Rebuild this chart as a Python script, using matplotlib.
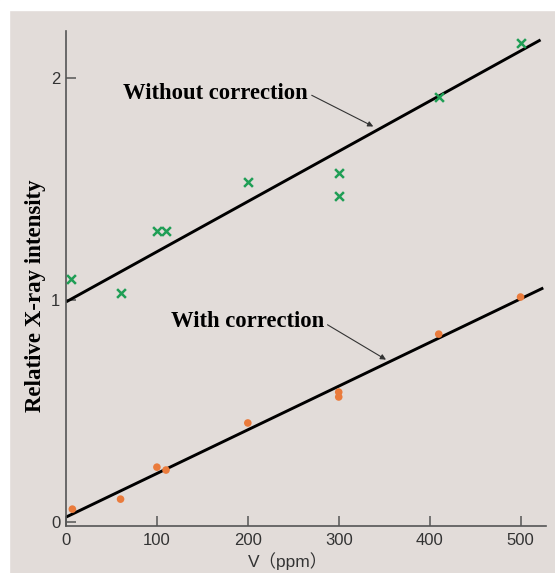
import matplotlib
matplotlib.use("Agg")
import matplotlib.pyplot as plt
from matplotlib.patches import Rectangle

# ---- data ----
v_without = [5, 60, 100, 110, 200, 300, 300, 410, 500]
i_without = [1.093, 1.030, 1.309, 1.309, 1.530, 1.571, 1.467, 1.913, 2.157]
fit_without_x = [0, 522]
fit_without_y = [0.99, 2.17]

v_with = [7, 60, 100, 110, 200, 300, 300, 410, 500]
i_with = [0.057, 0.102, 0.246, 0.233, 0.445, 0.584, 0.562, 0.845, 1.012]
fit_with_x = [0, 525]
fit_with_y = [0.021, 1.053]

x_ticks = [0, 100, 200, 300, 400, 500]
y_ticks = [0, 1, 2]
# ---------------------------------------

BG     = "#e2dcd9"
GREEN  = "#1f9e55"
ORANGE = "#ea7b3c"
AXCOL  = "#555555"
SERIF  = ["Liberation Serif", "DejaVu Serif"]
SANS   = ["Liberation Sans", "Noto Sans CJK JP", "DejaVu Sans"]

W, H = 555, 573
fig = plt.figure(figsize=(W / 100, H / 100), dpi=100, facecolor=BG)
# white margins at the top and left of the scanned panel
fig.patches.append(Rectangle((0, 0), 9 / W, 1, transform=fig.transFigure,
                             color="white", zorder=-10))
fig.patches.append(Rectangle((0, 1 - 10 / H), 1, 10 / H, transform=fig.transFigure,
                             color="white", zorder=-10))

ax = fig.add_axes([66 / W, (H - 526) / H, (546 - 66) / W, (526 - 31) / H])
ax.set_facecolor("none")

ax.plot(fit_without_x, fit_without_y, color="black", lw=2.1, solid_capstyle="butt")
ax.plot(fit_with_x, fit_with_y, color="black", lw=2.1, solid_capstyle="butt")
ax.scatter(v_without, i_without, marker="x", s=40, color=GREEN, linewidths=1.8, zorder=3)
ax.scatter(v_with, i_with, marker="o", s=30, color=ORANGE, edgecolors="none", zorder=3)

ax.set_xlim(0, 528)
ax.set_ylim(-0.019, 2.21)

for s in ["top", "right"]:
    ax.spines[s].set_visible(False)
for s in ["left", "bottom"]:
    ax.spines[s].set_color(AXCOL)
    ax.spines[s].set_linewidth(1.2)

ax.set_xticks(x_ticks)
ax.set_yticks(y_ticks)
ax.tick_params(direction="in", length=7, width=1.1, color=AXCOL,
               labelcolor="#333333", labelsize=12)
ax.tick_params(axis="x", pad=5)
ax.tick_params(axis="y", pad=4)
for lab in ax.get_xticklabels() + ax.get_yticklabels():
    lab.set_family(SANS)

ax.set_xlabel("V（ppm）", family=SANS, fontsize=12.5, color="#333333")
ax.xaxis.set_label_coords(0.463, -0.052)
ax.set_ylabel("Relative X-ray intensity", family=SERIF, fontsize=16.5,
              fontweight="bold")
ax.yaxis.set_label_coords(-0.042, 0.465)

arrow = dict(arrowstyle="-|>", color="#333333", lw=0.8, mutation_scale=8,
             shrinkA=0, shrinkB=0)
ax.annotate("Without correction", xy=(338, 1.78), xytext=(63, 1.93),
            family=SERIF, fontsize=16.3, fontweight="bold", va="center",
            arrowprops=dict(arrow, relpos=(1.02, 0.4)))
ax.annotate("With correction", xy=(352, 0.73), xytext=(116, 0.9),
            family=SERIF, fontsize=16.3, fontweight="bold", va="center",
            arrowprops=dict(arrow, relpos=(1.01, 0.4)))

fig.savefig("out.png", dpi=100, facecolor=fig.get_facecolor())
